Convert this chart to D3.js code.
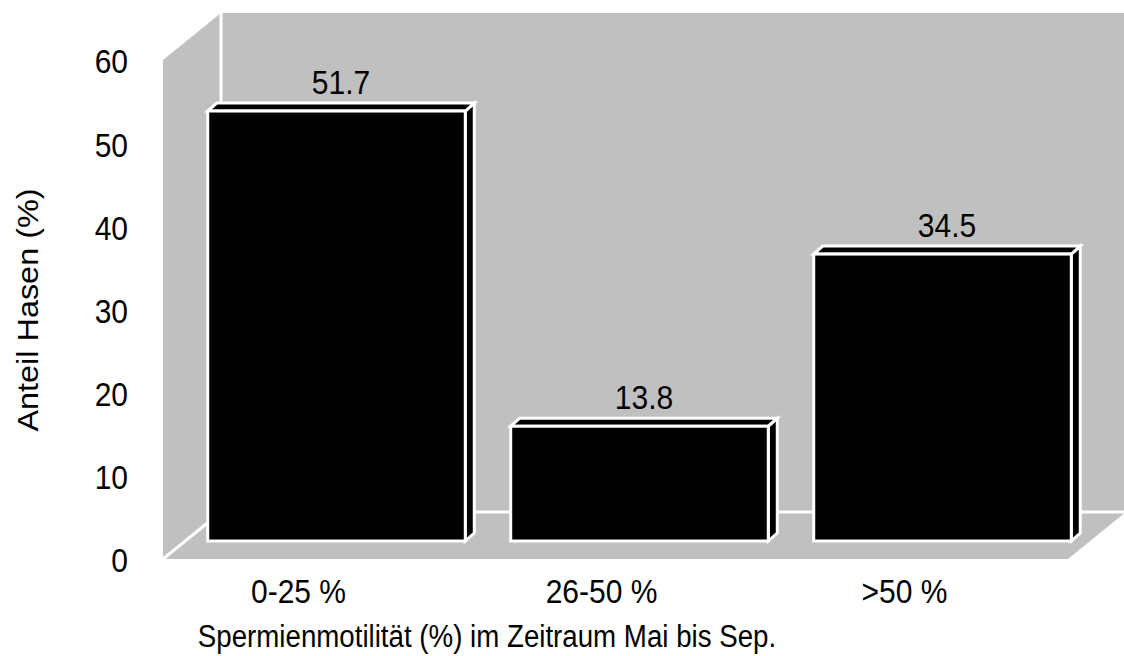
<!DOCTYPE html>
<html>
<head>
<meta charset="utf-8">
<script src="https://cdn.jsdelivr.net/npm/d3@7"></script>
<style>
  html, body { margin: 0; padding: 0; background: #fff; }
  svg { display: block; font-family: "Liberation Sans", Arial, sans-serif; }
</style>
</head>
<body>
<div id="chart"></div>
<script>
// data
const categories = ['0-25 %', '26-50 %', '>50 %'];
const values = [51.7, 13.8, 34.5];
const yTicks = [0, 10, 20, 30, 40, 50, 60];
const yTitle = 'Anteil Hasen (%)';
const xTitle = 'Spermienmotilität (%) im Zeitraum Mai bis Sep.';

const width = 1124, height = 656;

// front plane of the 3D box
const front = { left: 163, right: 1068, bottom: 559, top: 60 };
// depth of the whole box (back wall offset)
const wallDepth = { dx: 58, dy: -47 };
// bars sit part way into the box, and have their own depth
const barShift = { dx: 22, dy: -18 };
const barDepth = { dx: 9, dy: -8 };

const wall = '#c0c0c0';
// text in the original is a bit taller than wide
const stretch = 1.08;
const titleStretch = 1.15;

const svg = d3.select('#chart')
    .append('svg')
    .attr('width', width)
    .attr('height', height);

// Scales (front plane)
const y = d3.scaleLinear().domain([0, 60]).range([front.bottom, front.top]);
const x = d3.scaleBand()
    .domain(categories)
    .range([front.left, front.right + 4])
    .paddingInner(0.15)
    .paddingOuter(0.075);

const line = d3.line();

// Back wall
const bx = front.left + wallDepth.dx;
const backTop = y(60) + wallDepth.dy;
const backBottom = y(0) + wallDepth.dy;
svg.append('rect')
    .attr('x', bx)
    .attr('y', backTop)
    .attr('width', width - bx + 10)
    .attr('height', backBottom - backTop)
    .attr('fill', wall);

// Side wall
svg.append('path')
    .attr('d', line([
        [front.left, y(60)],
        [bx, backTop],
        [bx, backBottom],
        [front.left, y(0)]
    ]) + 'Z')
    .attr('fill', wall);

// Floor
svg.append('path')
    .attr('d', line([
        [front.left, y(0)],
        [bx, backBottom],
        [front.right + wallDepth.dx, backBottom],
        [front.right, y(0)]
    ]) + 'Z')
    .attr('fill', wall);

// White edges between walls and floor
const edges = svg.append('g')
    .attr('stroke', '#fff')
    .attr('stroke-width', 3)
    .attr('fill', 'none');
edges.append('path').attr('d', line([[bx, backTop], [bx, backBottom], [width + 10, backBottom]]));
edges.append('path').attr('d', line([[front.left, y(0)], [bx, backBottom]]));

// Bars
const barData = values.map((v, i) => ({ cat: categories[i], value: v }));
const bars = svg.append('g')
    .selectAll('g')
    .data(barData)
    .join('g')
    .attr('fill', '#000')
    .attr('stroke', '#fff')
    .attr('stroke-width', 3);

bars.each(function(d) {
    const g = d3.select(this);
    const x0 = x(d.cat) + barShift.dx;
    const x1 = x0 + x.bandwidth();
    const yb = y(0) + barShift.dy;
    const yt = y(d.value) + barShift.dy;
    // right side face
    g.append('path').attr('d', line([
        [x1, yt], [x1 + barDepth.dx, yt + barDepth.dy],
        [x1 + barDepth.dx, yb + barDepth.dy], [x1, yb]
    ]) + 'Z');
    // top face
    g.append('path').attr('d', line([
        [x0, yt], [x0 + barDepth.dx, yt + barDepth.dy],
        [x1 + barDepth.dx, yt + barDepth.dy], [x1, yt]
    ]) + 'Z');
    // front face
    g.append('rect')
        .attr('x', x0)
        .attr('y', yt)
        .attr('width', x1 - x0)
        .attr('height', yb - yt);
});

// Value labels
svg.append('g')
    .selectAll('text')
    .data(barData)
    .join('text')
    .attr('transform', d => `translate(${x(d.cat) + x.bandwidth() / 2 + barShift.dx + barDepth.dx / 2},${y(d.value) + barShift.dy - 17}) scale(1,${stretch})`)
    .attr('text-anchor', 'middle')
    .attr('font-size', 30)
    .text(d => d.value.toFixed(1));

// Y tick labels
svg.append('g')
    .selectAll('text')
    .data(yTicks)
    .join('text')
    .attr('transform', d => `translate(128,${y(d) + 2}) scale(1,${stretch})`)
    .attr('dy', '0.35em')
    .attr('text-anchor', 'end')
    .attr('font-size', 30)
    .text(d => d);

// X tick labels
svg.append('g')
    .selectAll('text')
    .data(categories)
    .join('text')
    .attr('transform', d => `translate(${x(d) + x.bandwidth() / 2 - 16},603) scale(1,${stretch})`)
    .attr('text-anchor', 'middle')
    .attr('font-size', 30)
    .text(d => d);

// Axis titles
svg.append('text')
    .attr('transform', `translate(38,310) rotate(-90) scale(${stretch},1)`)
    .attr('text-anchor', 'middle')
    .attr('font-size', 30)
    .text(yTitle);

svg.append('text')
    .attr('transform', `translate(487,647) scale(1,${titleStretch})`)
    .attr('text-anchor', 'middle')
    .attr('font-size', 27.7)
    .text(xTitle);
</script>
</body>
</html>
